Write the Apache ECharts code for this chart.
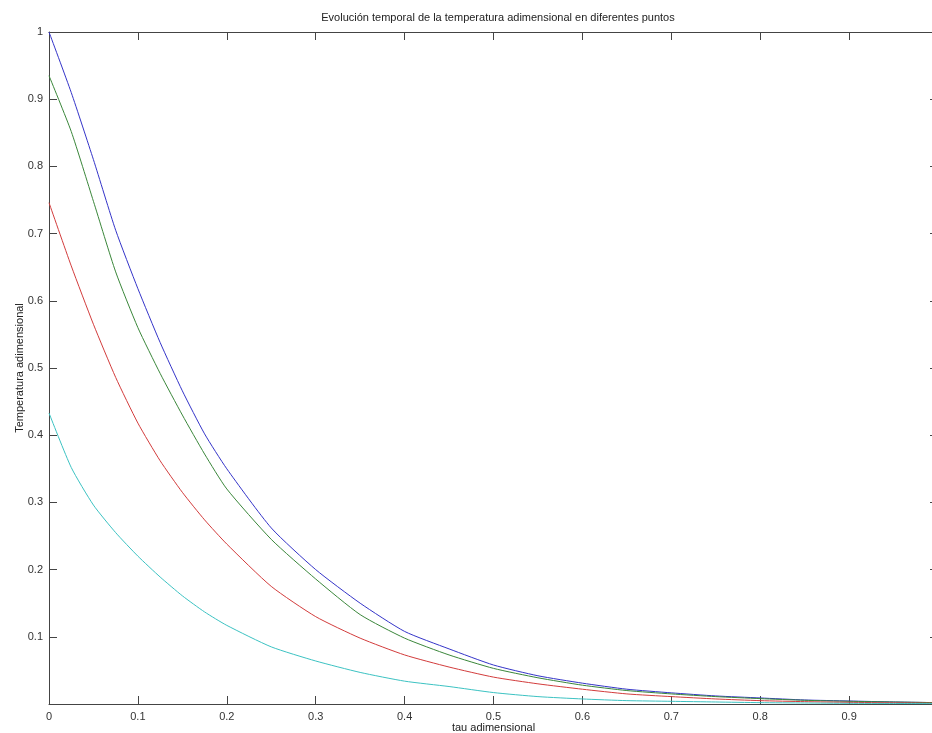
<!DOCTYPE html>
<html>
<head>
<meta charset="utf-8">
<script src="https://cdn.jsdelivr.net/npm/echarts@6/dist/echarts.min.js"></script>
<style>
  html, body { margin: 0; padding: 0; background: #fff; }
  #chart { width: 932px; height: 733px; }
</style>
</head>
<body>
<div id="chart"></div>
<script>
// tau (x) sample points
const tau = [0, 0.025, 0.05, 0.075, 0.1, 0.125, 0.15, 0.175, 0.2, 0.25, 0.3, 0.35, 0.4,
  0.45, 0.5, 0.55, 0.6, 0.65, 0.7, 0.75, 0.8, 0.85, 0.9, 0.95, 1.0];

// temperatura adimensional in each point
const tBlue = [1.0, 0.91, 0.81, 0.705, 0.618, 0.538, 0.466, 0.402, 0.350, 0.262, 0.200, 0.150, 0.108,
  0.082, 0.058, 0.042, 0.031, 0.022, 0.0166, 0.012, 0.009, 0.006, 0.0045, 0.003, 0.002];
const tGreen = [0.935, 0.852, 0.748, 0.643, 0.560, 0.492, 0.430, 0.372, 0.320, 0.245, 0.186, 0.133, 0.098,
  0.073, 0.053, 0.039, 0.028, 0.020, 0.015, 0.011, 0.008, 0.0055, 0.004, 0.003, 0.002];
const tRed = [0.746, 0.652, 0.565, 0.486, 0.418, 0.362, 0.315, 0.274, 0.238, 0.175, 0.130, 0.098, 0.073,
  0.055, 0.040, 0.030, 0.022, 0.015, 0.011, 0.0075, 0.005, 0.0035, 0.0025, 0.0018, 0.0012];
const tCyan = [0.433, 0.352, 0.296, 0.255, 0.220, 0.189, 0.161, 0.137, 0.117, 0.085, 0.064, 0.047, 0.034,
  0.026, 0.017, 0.011, 0.0075, 0.005, 0.004, 0.003, 0.002, 0.0015, 0.001, 0.0008, 0.0005];

const xTicks = [0, 0.1, 0.2, 0.3, 0.4, 0.5, 0.6, 0.7, 0.8, 0.9];
const yTicks = [0.1, 0.2, 0.3, 0.4, 0.5, 0.6, 0.7, 0.8, 0.9, 1];

const axisColor = '#444';
const font = 'Arial, "Liberation Sans", sans-serif';

function pairs(ys) {
  return tau.map((x, i) => [x, ys[i]]);
}

function line(name, ys, color) {
  return {
    name: name,
    type: 'line',
    data: pairs(ys),
    showSymbol: false,
    smooth: 0.2,
    lineStyle: { color: color, width: 1 },
    itemStyle: { color: color },
    z: 3
  };
}

// matlab style box: inward ticks, lines kept on the grid edges
const tickCommon = {
  axisLine: { show: true, onZero: false, lineStyle: { color: axisColor, width: 1 } },
  axisTick: { show: true, inside: true, length: 8, lineStyle: { color: axisColor } },
  splitLine: { show: false }
};

const chart = echarts.init(document.getElementById('chart'));
chart.setOption({
  animation: false,
  title: {
    text: 'Evolución temporal de la temperatura adimensional en diferentes puntos',
    left: 493,
    textAlign: 'center',
    top: 7,
    textStyle: { fontFamily: font, fontSize: 11, fontWeight: 'normal', color: '#222' }
  },
  // the right edge of the axes box lies just outside the window
  grid: { left: 49, width: 889, top: 32, height: 672, outerBoundsMode: 'none', containLabel: false },
  xAxis: [
    Object.assign({
      type: 'value',
      min: 0, max: 1, interval: 0.1,
      name: 'tau adimensional',
      nameLocation: 'middle',
      nameGap: 18,
      nameMoveOverlap: false,
      nameTextStyle: { fontFamily: font, fontSize: 11, color: '#222' },
      axisLabel: {
        fontFamily: font, fontSize: 11, color: '#333', margin: 7,
        showMaxLabel: false,
        formatter: v => xTicks.indexOf(Math.round(v * 10) / 10) >= 0 ? String(Math.round(v * 10) / 10) : ''
      }
    }, tickCommon),
    Object.assign({
      type: 'value', position: 'top',
      min: 0, max: 1, interval: 0.1,
      axisLabel: { show: false }
    }, tickCommon)
  ],
  yAxis: [
    Object.assign({
      type: 'value',
      min: 0, max: 1, interval: 0.1,
      name: 'Temperatura adimensional',
      nameLocation: 'middle',
      nameGap: 24,
      nameMoveOverlap: false,
      nameTextStyle: { fontFamily: font, fontSize: 11, color: '#222' },
      axisLabel: {
        fontFamily: font, fontSize: 11, color: '#333', margin: 6,
        showMinLabel: false,
        formatter: v => {
          const r = Math.round(v * 10) / 10;
          return yTicks.indexOf(r) >= 0 ? String(r) : '';
        }
      }
    }, tickCommon),
    Object.assign({
      type: 'value', position: 'right',
      min: 0, max: 1, interval: 0.1,
      axisLabel: { show: false }
    }, tickCommon)
  ],
  series: [
    line('blue', tBlue, '#3434c8'),
    line('green', tGreen, '#3a863a'),
    line('red', tRed, '#d23c3c'),
    line('cyan', tCyan, '#3cc2c2')
  ]
});
</script>
</body>
</html>
